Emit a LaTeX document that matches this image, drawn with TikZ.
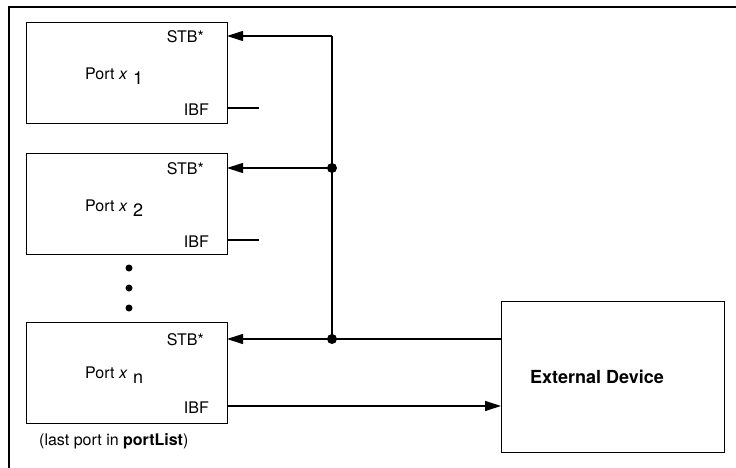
\documentclass[tikz,border=0pt]{standalone}
\usepackage{fontspec}
\setmainfont{TeX Gyre Heros}
\usetikzlibrary{arrows.meta}
\newcommand{\subx}[1]{\hspace{1pt}\raisebox{-5pt}{\fontsize{18}{21}\selectfont #1}}
\begin{document}
\begin{tikzpicture}[x=1pt,y=-1pt,
  box/.style={draw,line width=1.3pt},
  wire/.style={line width=1.1pt},
  arr/.style={wire,-{Triangle[length=16pt,width=10pt]}},
  lbl/.style={inner sep=0pt,font=\fontsize{16}{19}\selectfont},
  junc/.style={circle,fill,inner sep=0pt,minimum size=10pt},
  vdot/.style={circle,fill,inner sep=0pt,minimum size=7pt}]
\useasboundingbox (0,0) rectangle (736,468);
% frame
\draw[line width=1.5pt] (736,7) -- (9,7) -- (9,468);
% ports
\node[box,minimum width=201pt,minimum height=101pt,inner sep=0pt,anchor=north west] (p1) at (26,22) {};
\node[box,minimum width=201pt,minimum height=101pt,inner sep=0pt,anchor=north west] (p2) at (26,153) {};
\node[box,minimum width=201pt,minimum height=101pt,inner sep=0pt,anchor=north west] (pn) at (26,322) {};
\node[box,minimum width=223pt,minimum height=151pt,inner sep=0pt,anchor=north west] (ext) at (501,301) {};
% labels
\node[lbl,anchor=base west] (t1) at (85,80) {Port \textit{x} \subx{1}};
\node[lbl,anchor=base west] (t2) at (85,211) {Port \textit{x} \subx{2}};
\node[lbl,anchor=base west] (tn) at (85,378) {Port \textit{x} \subx{n}};
\node[lbl,anchor=east] (s1) at (204,37) {STB*};
\node[lbl,anchor=east] (s2) at (204,169) {STB*};
\node[lbl,anchor=east] (sn) at (204,340) {STB*};
\node[lbl,anchor=east] (i1) at (209,110) {IBF};
\node[lbl,anchor=east] (i2) at (209,242) {IBF};
\node[lbl,anchor=east] (in) at (209,408) {IBF};
\node[lbl,anchor=base west] (last) at (39,445) {(last port in \textbf{portList})};
\node[inner sep=0pt,anchor=west,font=\fontsize{18}{21}\selectfont\bfseries] (extl) at (530,377) {External Device};
% vertical dots
\node[vdot] (d1) at (129,268) {};
\node[vdot] (d2) at (129,288) {};
\node[vdot] (d3) at (129,308) {};
% coordinates
\coordinate (a1) at (227,36);
\coordinate (a2) at (227,168);
\coordinate (an) at (227,339);
\coordinate (top) at (332,36);
\node[junc] (j2) at (332,168) {};
\node[junc] (jn) at (332,339) {};
\coordinate (e1) at (501,339);
\coordinate (b1) at (227,108);
\coordinate (c1) at (259,108);
\coordinate (b2) at (227,240);
\coordinate (c2) at (259,240);
\coordinate (bn) at (227,406);
\coordinate (en) at (501,406);
% wires
\draw[wire] (jn.center) -- (top);
\draw[arr] (top) -- (a1);
\draw[arr] (j2.center) -- (a2);
\draw[arr] (e1) -- (an);
\draw[wire] (b1) -- (c1);
\draw[wire] (b2) -- (c2);
\draw[arr] (bn) -- (en);
\end{tikzpicture}
\end{document}
